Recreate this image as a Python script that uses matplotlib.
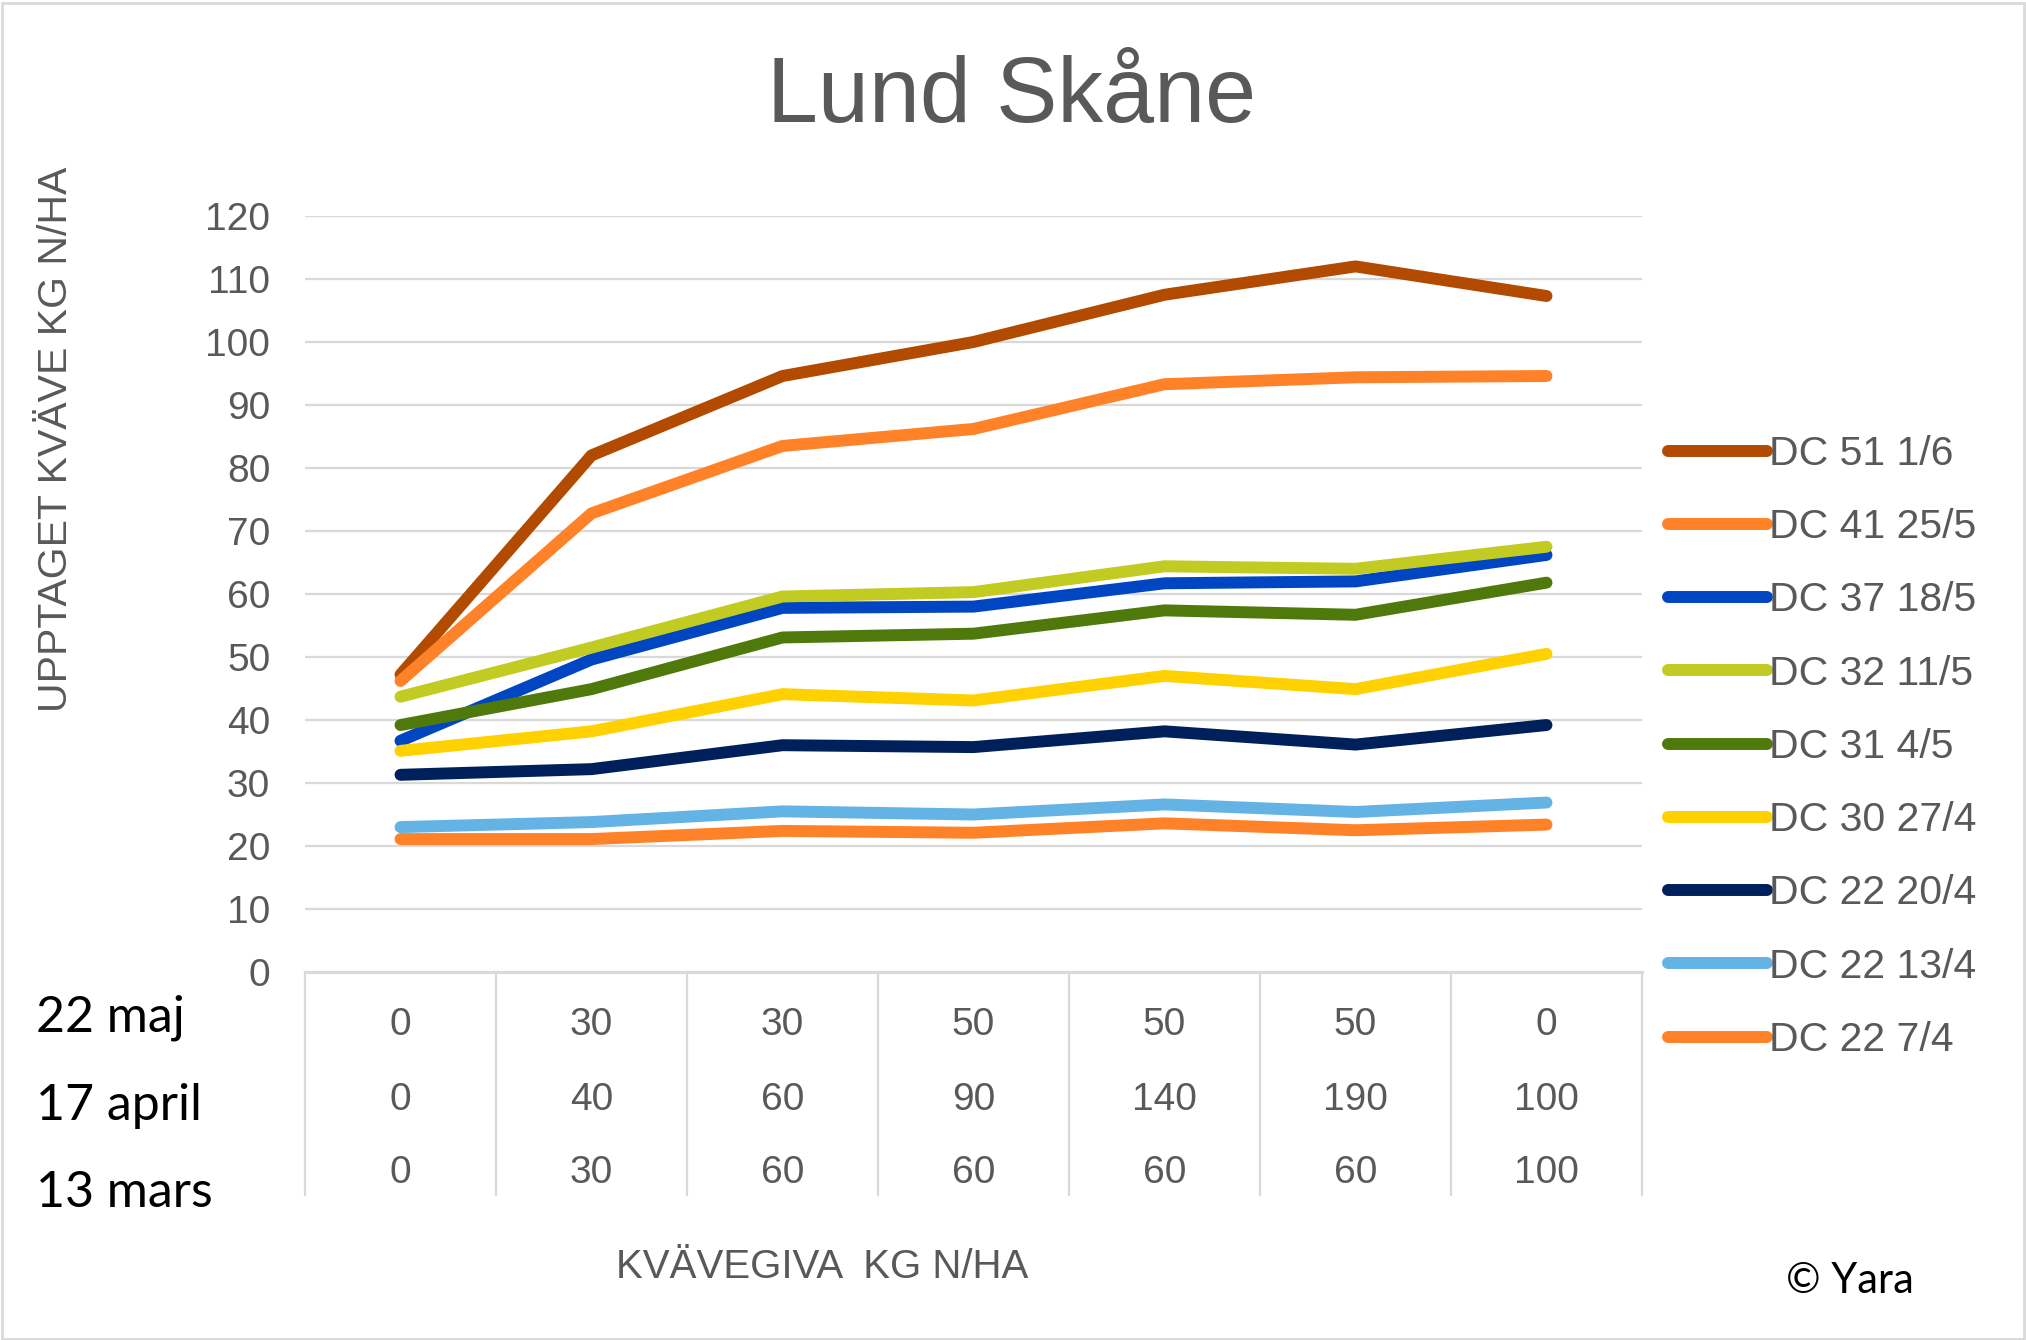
import matplotlib
matplotlib.use("Agg")
import matplotlib.pyplot as plt
from matplotlib.transforms import blended_transform_factory
from matplotlib.lines import Line2D
from matplotlib.patches import Rectangle

plt.rcParams['font.family'] = ['Liberation Sans', 'DejaVu Sans']

# ---------------- data ----------------
categories = ["1", "2", "3", "4", "5", "6", "7"]
row_labels = ["22 maj", "17 april", "13 mars"]
dose_22maj = ["0", "30", "30", "50", "50", "50", "0"]
dose_17april = ["0", "40", "60", "90", "140", "190", "100"]
dose_13mars = ["0", "30", "60", "60", "60", "60", "100"]

series_names = ["DC 51 1/6", "DC 41 25/5", "DC 37 18/5", "DC 32 11/5", "DC 31 4/5",
                "DC 30 27/4", "DC 22 20/4", "DC 22 13/4", "DC 22 7/4"]
dc51 = [47.2, 82.0, 94.6, 100.0, 107.5, 112.0, 107.3]
dc41 = [46.2, 72.8, 83.5, 86.2, 93.3, 94.4, 94.6]
dc37 = [36.7, 49.6, 57.8, 58.0, 61.7, 62.0, 66.2]
dc32 = [43.7, 51.5, 59.6, 60.3, 64.4, 64.0, 67.5]
dc31 = [39.2, 44.9, 53.1, 53.7, 57.4, 56.7, 61.8]
dc30 = [35.1, 38.2, 44.1, 43.1, 47.0, 44.9, 50.5]
dc22_204 = [31.3, 32.2, 36.0, 35.7, 38.2, 36.1, 39.2]
dc22_134 = [23.0, 23.8, 25.5, 25.0, 26.6, 25.4, 26.9]
dc22_74 = [21.1, 21.1, 22.4, 22.1, 23.6, 22.5, 23.4]
series_values = [dc51, dc41, dc37, dc32, dc31, dc30, dc22_204, dc22_134, dc22_74]
colors = ["#B24A00", "#FF8228", "#0046C2", "#C1CB21", "#4F7A0B",
          "#FFD100", "#00205C", "#63B4E5", "#FF8228"]

yticks = [0, 10, 20, 30, 40, 50, 60, 70, 80, 90, 100, 110, 120]

# ---------------- figure ----------------
W, H = 2026, 1340
fig = plt.figure(figsize=(W / 100, H / 100), dpi=100)
fig.patch.set_facecolor("white")
fig.add_artist(Rectangle((0.001, 0.001), 0.998, 0.997, transform=fig.transFigure,
                         fill=False, edgecolor="#D9D9D9", linewidth=2))

left, right = 305 / W, 1642 / W
bottom, top = 1 - 972 / H, 1 - 216 / H
ax = fig.add_axes([left, bottom, right - left, top - bottom])

x = list(range(len(categories)))
for name, vals, c in zip(series_names, series_values, colors):
    ax.plot(x, vals, color=c, linewidth=8.6, solid_capstyle="round",
            solid_joinstyle="round", label=name, zorder=3)

ax.set_xlim(-0.5, len(categories) - 0.5)
ax.set_ylim(0, 120)
ax.set_yticks(yticks)
ax.set_yticklabels([str(v) for v in yticks], fontsize=28, color="#595959")
ax.tick_params(axis="y", length=0, pad=25)
ax.set_xticks([])
for s in ["top", "right", "left"]:
    ax.spines[s].set_visible(False)
ax.spines["bottom"].set_color("#D9D9D9")
ax.spines["bottom"].set_linewidth(2.2)
ax.spines["bottom"].set_zorder(1)
ax.grid(axis="y", color="#D9D9D9", linewidth=1.6, zorder=0)
ax.set_axisbelow(True)

# title
fig.text(1012 / W, 1 - 98 / H, "Lund Skåne", ha="center", va="center",
         fontsize=66, color="#595959")

# y label
fig.text(56 / W, 1 - 439 / H, "UPPTAGET KVÄVE KG N/HA", rotation=90,
         ha="center", va="center", fontsize=29.5, color="#595959")

# category table below axis
trans = blended_transform_factory(ax.transData, fig.transFigure)
y_top_tab = bottom
y_bot_tab = 1 - 1195 / H
for i in range(len(categories) + 1):
    fig.add_artist(Line2D([i - 0.5, i - 0.5], [y_top_tab, y_bot_tab], transform=trans,
                          color="#D9D9D9", linewidth=1.6))
row_y = [1 - 1025 / H, 1 - 1100 / H, 1 - 1173 / H]
for ry, row in zip(row_y, [dose_22maj, dose_17april, dose_13mars]):
    for i, v in enumerate(row):
        fig.text(i, ry, v, transform=trans, ha="center", va="center",
                 fontsize=28, color="#595959")

head_y = [1 - 1018 / H, 1 - 1106 / H, 1 - 1193 / H]
for hy, lab in zip(head_y, row_labels):
    fig.text(36 / W, hy, lab, ha="left", va="center", fontsize=36,
             color="black", family=["Lato", "DejaVu Sans"])

fig.text(822 / W, 1 - 1267 / H, "KVÄVEGIVA  KG N/HA", ha="center", va="center",
         fontsize=29, color="#595959")
fig.text(1850 / W, 1 - 1281 / H, "© Yara", ha="center", va="center",
         fontsize=30, color="black", family=["Lato", "DejaVu Sans"])

# legend
leg = fig.legend(loc="upper left", bbox_to_anchor=(1668 / W, 1 - 435 / H),
                 frameon=False, fontsize=29.5, handlelength=2.42, handletextpad=0.05,
                 labelspacing=0.86, borderaxespad=0, borderpad=0)
for t in leg.get_texts():
    t.set_color("#595959")
for h in leg.get_lines():
    h.set_solid_capstyle("round")

fig.savefig("out.png", dpi=100)
